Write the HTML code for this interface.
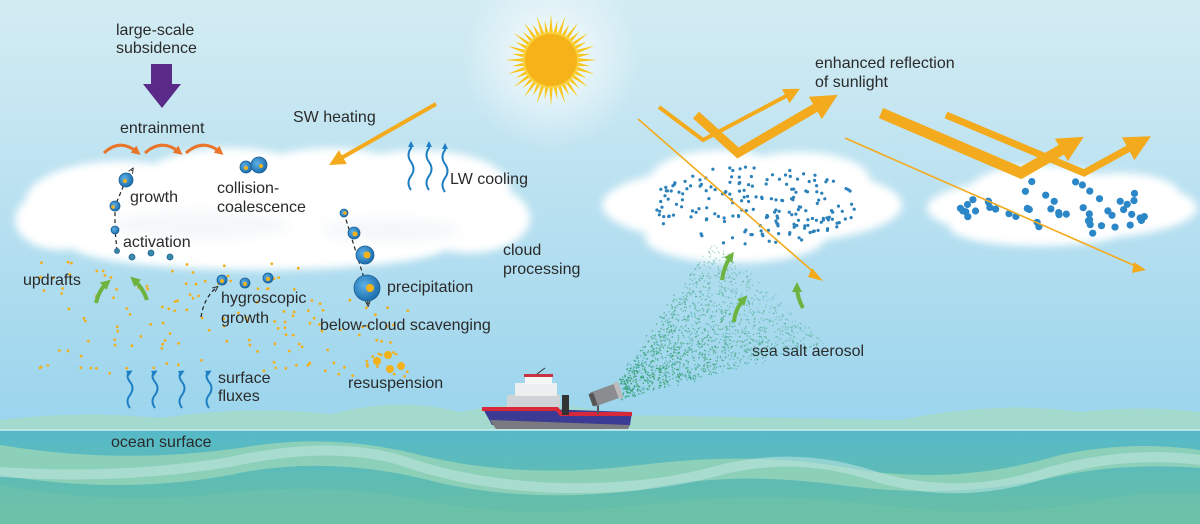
<!DOCTYPE html>
<html><head><meta charset="utf-8"><style>
html,body{margin:0;padding:0;width:1200px;height:524px;overflow:hidden}
svg{display:block}
text{font-family:"Liberation Sans",sans-serif;font-size:16px;fill:#2a2a2a}
</style></head><body>
<svg id="s" width="1200" height="524" viewBox="0 0 1200 524" xmlns="http://www.w3.org/2000/svg">
<defs>
<linearGradient id="sky" x1="0" y1="0" x2="0" y2="1">
<stop offset="0" stop-color="#d3ecf3"/><stop offset="0.45" stop-color="#b5dff0"/><stop offset="1" stop-color="#8ccfeb"/>
</linearGradient>
<radialGradient id="glow" cx="0.5" cy="0.5" r="0.5">
<stop offset="0" stop-color="#ffffff" stop-opacity="0.9"/><stop offset="1" stop-color="#ffffff" stop-opacity="0"/>
</radialGradient>
<linearGradient id="sea" x1="0" y1="0" x2="0" y2="1">
<stop offset="0" stop-color="#56b9c9"/><stop offset="1" stop-color="#67bfa2"/>
</linearGradient>
<filter id="blur" x="-20%" y="-40%" width="140%" height="180%"><feGaussianBlur stdDeviation="4"/></filter>
<filter id="blur2" x="-20%" y="-30%" width="140%" height="160%"><feGaussianBlur stdDeviation="6"/></filter>
<marker id="ah" viewBox="0 0 10 10" refX="5" refY="5" markerWidth="4" markerHeight="4" orient="auto"><path d="M0,0 L10,5 L0,10 z" fill="#f3aa1c"/></marker>
<marker id="ahb" viewBox="0 0 10 10" refX="5" refY="5" markerWidth="3" markerHeight="3" orient="auto"><path d="M0,0 L10,5 L0,10 z" fill="#1f7fc4"/></marker>
<marker id="ahg" viewBox="0 0 10 10" refX="5" refY="5" markerWidth="2.5" markerHeight="2.5" orient="auto"><path d="M0,0 L10,5 L0,10 z" fill="#6db33f"/></marker>
<marker id="aho" viewBox="0 0 10 10" refX="5" refY="5" markerWidth="3" markerHeight="3" orient="auto"><path d="M0,0 L10,5 L0,10 z" fill="#e9752a"/></marker>
<marker id="ahk" viewBox="0 0 10 10" refX="5" refY="5" markerWidth="5" markerHeight="5" orient="auto"><path d="M0,1 L9,5 L0,9" fill="none" stroke="#222" stroke-width="1.5"/></marker>
<marker id="hm" viewBox="0 0 10 10" refX="3" refY="5" markerUnits="userSpaceOnUse" markerWidth="16" markerHeight="16" orient="auto"><path d="M0,0 L10,5 L0,10 z" fill="#f3aa1c"/></marker>
<marker id="hl" viewBox="0 0 10 10" refX="3" refY="5" markerUnits="userSpaceOnUse" markerWidth="26" markerHeight="26" orient="auto"><path d="M0,0 L10,5 L0,10 z" fill="#f3aa1c"/></marker>
<radialGradient id="drop" cx="0.4" cy="0.4" r="0.6"><stop offset="0" stop-color="#5fb2e6"/><stop offset="1" stop-color="#1c6fae"/></radialGradient>
</defs>
<rect width="1200" height="524" fill="url(#sky)"/>
<circle cx="551" cy="60" r="90" fill="url(#glow)"/>

<!-- clouds -->
<g filter="url(#blur)" fill="#ffffff">
<ellipse cx="270" cy="215" rx="250" ry="45"/>
<ellipse cx="120" cy="203" rx="95" ry="42"/>
<ellipse cx="230" cy="183" rx="90" ry="35"/>
<ellipse cx="330" cy="178" rx="80" ry="30"/>
<ellipse cx="420" cy="188" rx="90" ry="38"/>
<ellipse cx="470" cy="218" rx="60" ry="35"/>
<ellipse cx="260" cy="245" rx="190" ry="25"/>
<ellipse cx="60" cy="220" rx="45" ry="30"/>
<ellipse cx="752" cy="205" rx="150" ry="40"/>
<ellipse cx="720" cy="180" rx="70" ry="30"/>
<ellipse cx="800" cy="180" rx="70" ry="28"/>
<ellipse cx="735" cy="238" rx="90" ry="25"/>
<ellipse cx="1062" cy="208" rx="135" ry="32"/>
<ellipse cx="1040" cy="190" rx="70" ry="25"/>
<ellipse cx="1120" cy="195" rx="60" ry="22"/>
<ellipse cx="1040" cy="228" rx="90" ry="18"/>
</g>
<g fill="#dbe6ec" opacity="0.3" filter="url(#blur2)">
<ellipse cx="200" cy="225" rx="90" ry="14"/><ellipse cx="390" cy="230" rx="70" ry="12"/>
</g>
<g id="dots"></g>

<!-- sun -->
<g id="sun" transform="translate(551,60)"></g>
<circle cx="551" cy="60" r="27" fill="#f6b219" stroke="#f9d03a" stroke-width="2"/>

<!-- subsidence -->
<text x="116" y="35">large-scale</text>
<text x="116" y="53">subsidence</text>
<path d="M151,64 H172 V84 H181 L162,108 L143,84 H151 Z" fill="#5a2a88"/>

<text x="120" y="133">entrainment</text>
<g fill="none" stroke="#e9752a" stroke-width="3">
<path d="M104,153 Q120,138 137,152" marker-end="url(#aho)"/>
<path d="M145,153 Q162,138 179,152" marker-end="url(#aho)"/>
<path d="M186,153 Q203,138 220,152" marker-end="url(#aho)"/>
</g>

<text x="293" y="122">SW heating</text>
<line x1="436" y1="104" x2="336" y2="161" stroke="#f3aa1c" stroke-width="4" marker-end="url(#ah)"/>

<g fill="none" stroke="#1f7fc4" stroke-width="2">
<path d="M411,190 q-5,-7 0,-14 q5,-7 0,-14 q-5,-7 0,-14 v-4" marker-end="url(#ahb)"/>
<path d="M429,190 q-5,-7 0,-14 q5,-7 0,-14 q-5,-7 0,-14 v-4" marker-end="url(#ahb)"/>
<path d="M445,192 q-5,-7 0,-14 q5,-7 0,-14 q-5,-7 0,-14 v-4" marker-end="url(#ahb)"/>
<path d="M130,408 q-5,-7 0,-13 q5,-7 0,-13 q-5,-7 0,-10" marker-end="url(#ahb)"/>
<path d="M155,408 q-5,-7 0,-13 q5,-7 0,-13 q-5,-7 0,-10" marker-end="url(#ahb)"/>
<path d="M182,408 q-5,-7 0,-13 q5,-7 0,-13 q-5,-7 0,-10" marker-end="url(#ahb)"/>
<path d="M209,408 q-5,-7 0,-13 q5,-7 0,-13 q-5,-7 0,-10" marker-end="url(#ahb)"/>
</g>
<text x="450" y="184">LW cooling</text>

<path d="M117,251 L115,230 L115,206 L126,180 L132,170" fill="none" stroke="#222" stroke-width="1.2" stroke-dasharray="4,3" marker-end="url(#ahk)"/>
<g stroke="#1b5f95" stroke-width="0.8">
<circle cx="126" cy="180" r="7" fill="url(#drop)"/>
<circle cx="115" cy="206" r="5" fill="url(#drop)"/>
<circle cx="115" cy="230" r="4" fill="url(#drop)"/>
<circle cx="117" cy="251" r="2.5" fill="#3a86a0"/>
<circle cx="132" cy="257" r="3" fill="#3a8aa8"/><circle cx="151" cy="253" r="3" fill="#3a8aa8"/><circle cx="170" cy="257" r="3" fill="#3a8aa8"/>
<circle cx="246" cy="167" r="6" fill="url(#drop)"/>
<circle cx="259" cy="165" r="8" fill="url(#drop)"/>
<circle cx="222" cy="280" r="5" fill="url(#drop)"/><circle cx="245" cy="283" r="5" fill="url(#drop)"/><circle cx="268" cy="278" r="5" fill="url(#drop)"/>
</g>
<g fill="#f3b21c"><circle cx="125" cy="181" r="2"/><circle cx="113" cy="207" r="1.8"/><circle cx="246" cy="168" r="2"/><circle cx="261" cy="166" r="2"/><circle cx="222" cy="281" r="2"/><circle cx="245" cy="284" r="2"/><circle cx="268" cy="279" r="2"/></g>
<text x="130" y="202">growth</text>
<text x="123" y="247">activation</text>
<text x="217" y="193">collision-</text>
<text x="217" y="212">coalescence</text>

<path d="M344,213 L367,288 L368,304" fill="none" stroke="#222" stroke-width="1.2" stroke-dasharray="4,3" marker-end="url(#ahk)"/>
<g stroke="#1b5f95" stroke-width="0.8">
<circle cx="344" cy="213" r="4" fill="url(#drop)"/>
<circle cx="354" cy="233" r="6" fill="url(#drop)"/>
<circle cx="365" cy="255" r="9" fill="url(#drop)"/>
<circle cx="367" cy="288" r="13" fill="url(#drop)"/>
</g>
<g fill="#f3b21c"><circle cx="345" cy="213" r="1.8"/><circle cx="355" cy="234" r="2.5"/><circle cx="367" cy="255" r="3.5"/><circle cx="370" cy="288" r="4"/></g>
<text x="387" y="292">precipitation</text>
<text x="320" y="330">below-cloud scavenging</text>
<text x="503" y="255">cloud</text>
<text x="503" y="274">processing</text>

<text x="23" y="285">updrafts</text>
<path d="M201,317 Q204,298 216,288" fill="none" stroke="#222" stroke-width="1.2" stroke-dasharray="4,3" marker-end="url(#ahk)"/>
<text x="221" y="303">hygroscopic</text>
<text x="221" y="323">growth</text>
<text x="218" y="383">surface</text>
<text x="218" y="401">fluxes</text>
<g fill="#f3b21c"><circle cx="377" cy="361" r="4"/><circle cx="388" cy="355" r="4"/><circle cx="390" cy="369" r="4"/><circle cx="401" cy="366" r="4"/></g>
<text x="348" y="388">resuspension</text>

<g fill="none" stroke="#f3aa1c" stroke-linejoin="miter">
<polyline points="659,107 703,140 790,94" stroke-width="4" marker-end="url(#hm)"/>
<polyline points="696,115 738,153 822,104" stroke-width="9" marker-end="url(#hl)"/>
<polyline points="881,113 1021,173 1068,146" stroke-width="11" marker-end="url(#hl)"/>
<polyline points="946,115 1084,173 1135,145" stroke-width="7" marker-end="url(#hl)"/>
<line x1="638" y1="119" x2="817" y2="275" stroke-width="1.6"/>
<line x1="845" y1="138" x2="1140" y2="268" stroke-width="1.6"/>
</g>
<path d="M812,268 L823,281 L808,277 Z" fill="#f3aa1c"/>
<path d="M1134,262 L1146,270 L1132,273 Z" fill="#f3aa1c"/>
<text x="815" y="68">enhanced reflection</text>
<text x="815" y="87">of sunlight</text>
<text x="752" y="356">sea salt aerosol</text>

<path d="M0,430 L0,420 Q80,410 160,418 Q250,405 330,414 Q400,396 460,412 Q540,395 620,415 L900,420 Q1000,400 1080,412 Q1140,405 1200,412 L1200,430 Z" fill="#a6d9c6" opacity="0.8"/>
<rect x="0" y="430" width="1200" height="94" fill="url(#sea)"/>
<line x1="0" y1="430" x2="1200" y2="430" stroke="#cdeef2" stroke-width="1.5"/>
<path d="M0,445 Q120,465 240,448 Q330,432 420,455 Q520,480 640,465 Q760,450 860,470 Q960,485 1060,455 Q1130,440 1200,450 L1200,468 Q1120,462 1050,478 Q950,500 840,485 Q730,470 640,490 Q520,505 420,478 Q320,455 230,475 Q120,495 0,475 Z" fill="#95d3b9" opacity="0.85"/>
<path d="M0,485 Q100,505 210,495 Q320,480 420,500 Q520,520 640,505 Q760,490 880,505 Q1000,520 1100,500 Q1150,490 1200,495 L1200,524 L0,524 Z" fill="#72c3aa" opacity="0.5"/>
<path d="M0,472 Q120,480 230,462 Q330,440 400,460 Q470,485 560,488 Q650,490 720,470 Q800,450 880,478 Q960,500 1040,475 Q1120,450 1200,460" stroke="#bfe6e2" stroke-width="10" fill="none" opacity="0.55"/>
<text x="111" y="447">ocean surface</text>

<g id="spray"></g>

<g fill="none" stroke="#6db33f" stroke-width="4">
<path d="M96,303 Q99,290 107,283" marker-end="url(#ahg)"/>
<path d="M147,300 Q143,288 134,280" marker-end="url(#ahg)"/>
<path d="M734,322 Q735,309 744,299" marker-end="url(#ahg)"/>
<path d="M722,280 Q724,266 731,256" marker-end="url(#ahg)"/>
<path d="M803,308 Q797,297 797,287" marker-end="url(#ahg)"/>
</g>

<path d="M482,407 L632,412 L630,425 L492,425 Z" fill="#3b3a94"/>
<path d="M482,407 L558,407 L562,412 L632,412 L632,416 L560,416 L556,411 L482,411 Z" fill="#d8293a"/>
<path d="M490,420 L630,425 L628,429 L496,429 Z" fill="#7a7a80"/>
<rect x="507" y="395" width="53" height="12" fill="#cfd2d6"/>
<rect x="515" y="383" width="42" height="13" fill="#eceef0"/>
<rect x="525" y="375" width="27" height="9" fill="#f5f5f5"/>
<rect x="524" y="374" width="29" height="3" fill="#c93240"/>
<rect x="562" y="395" width="7" height="20" fill="#333"/>
<line x1="537" y1="374" x2="545" y2="368" stroke="#333" stroke-width="1"/>
<rect x="597" y="402" width="2" height="12" fill="#555"/>
<g transform="translate(604,396) rotate(-20)"><rect x="-12" y="-8" width="26" height="15" fill="#8a8c90"/><rect x="-14" y="-7" width="5" height="13" fill="#555"/><rect x="13" y="-9" width="5" height="17" fill="#bbb"/></g>
</svg>
<script>
(function(){
var ns="http://www.w3.org/2000/svg";
var seed=7;function r(){seed=(seed*16807)%2147483647;return (seed-1)/2147483646;}
function c(g,x,y,rad,f,o){var e=document.createElementNS(ns,"circle");e.setAttribute("cx",x.toFixed(1));e.setAttribute("cy",y.toFixed(1));e.setAttribute("r",rad);e.setAttribute("fill",f);if(o)e.setAttribute("opacity",o);g.appendChild(e);}
var sun=document.getElementById("sun");
for(var i=0;i<40;i++){var a=i/40*Math.PI*2,L=(i%2?40:46);var p=document.createElementNS(ns,"path");var w=0.06;
p.setAttribute("d","M"+(28*Math.cos(a-w)).toFixed(1)+","+(28*Math.sin(a-w)).toFixed(1)+" L"+(L*Math.cos(a)).toFixed(1)+","+(L*Math.sin(a)).toFixed(1)+" L"+(28*Math.cos(a+w)).toFixed(1)+","+(28*Math.sin(a+w)).toFixed(1)+"Z");p.setAttribute("fill","#f8c61e");sun.appendChild(p);}
var d=document.getElementById("dots");
for(var i=0;i<170;i++){var x=40+r()*370,y=262+r()*115;if(x>300&&y<300)continue;c(d,x,y,1.4,"#f2b01e");}
for(var i=0;i<240;i++){var x=650+r()*205,y=167+r()*78;var dx=(x-752)/105,dy=(y-205)/40;if(dx*dx+dy*dy>1)continue;c(d,x,y,1.6,"#2a80b8");}
for(var i=0;i<60;i++){var x=960+r()*192,y=180+r()*55;var dx=(x-1056)/98,dy=(y-207)/29;if(dx*dx+dy*dy>1)continue;c(d,x,y,3.6,"#2b87c8");}
var s=document.getElementById("spray");
for(var i=0;i<1700;i++){var t=Math.pow(r(),0.8);var sx=617+t*(770-617),sy=394+t*(292-394);var spread=(5+t*70);var u=(r()-0.5)*2*spread;
c(s,sx+u*0.75+(r()-0.5)*6,sy+u*0.7+(r()-0.5)*6,0.8,r()<0.5?"#2f9a5a":"#3fa99a",(0.85-t*0.5).toFixed(2));}
})();
</script>
</body></html>
